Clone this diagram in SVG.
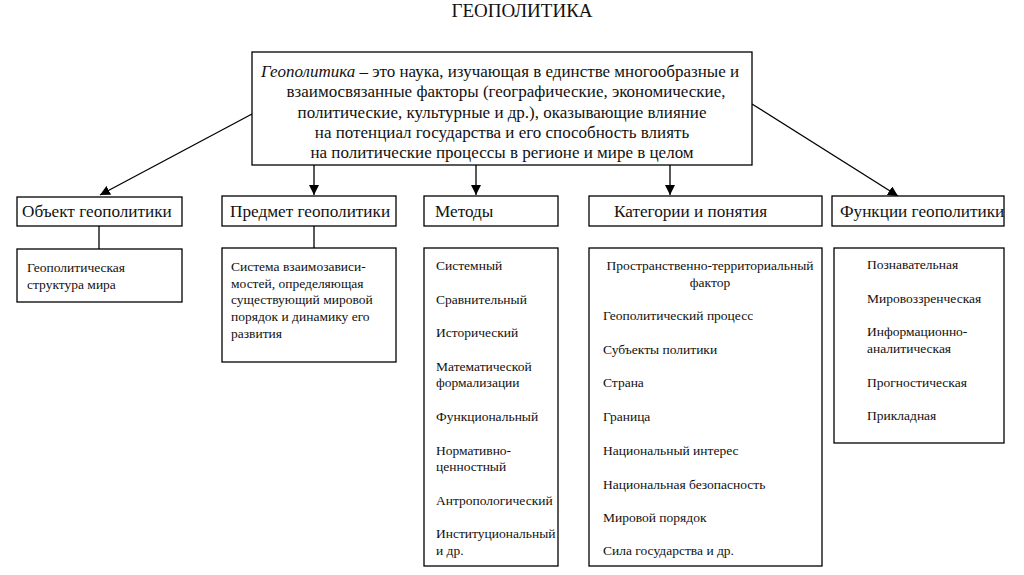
<svg xmlns="http://www.w3.org/2000/svg" width="1024" height="575" viewBox="0 0 1024 575">
<defs>
<marker id="arr" viewBox="0 0 10 10" refX="10" refY="5" markerWidth="10" markerHeight="10" markerUnits="userSpaceOnUse" orient="auto">
<path d="M0,0 L10,5 L0,10 z" fill="#000"/>
</marker>
<style>
rect{fill:#fff;stroke:#000;stroke-width:1.3}
text{font-family:"Liberation Serif","Times New Roman",serif;fill:#111}
.t{font-size:19px}
.m{font-size:17px}
.h{font-size:17.2px}
.s{font-size:13.5px}
.c{text-anchor:middle}
.ln{stroke:#000;stroke-width:1.3;fill:none}
</style>
</defs>
<rect x="0" y="0" width="1024" height="575" style="stroke:none;fill:#fff"/>
<text class="t c" x="522" y="17">ГЕОПОЛИТИКА</text>

<g id="connectors">
<line class="ln" x1="252" y1="114" x2="100" y2="195" marker-end="url(#arr)"/>
<line class="ln" x1="752" y1="104" x2="898" y2="196" marker-end="url(#arr)"/>
<line class="ln" x1="314" y1="165" x2="314" y2="195" marker-end="url(#arr)"/>
<line class="ln" x1="476" y1="165" x2="476" y2="195" marker-end="url(#arr)"/>
<line class="ln" x1="670" y1="165" x2="670" y2="195" marker-end="url(#arr)"/>
<line class="ln" x1="99" y1="226" x2="99" y2="249"/>
<line class="ln" x1="314" y1="226" x2="314" y2="248"/>
</g>

<g id="main">
<rect x="252" y="52" width="500" height="113"/>
<text class="m c" x="500" y="77"><tspan font-style="italic">Геополитика</tspan> – это наука, изучающая в единстве многообразные и</text>
<text class="m c" x="506" y="97">взаимосвязанные факторы (географические, экономические,</text>
<text class="m c" x="502" y="118">политические, культурные и др.), оказывающие влияние</text>
<text class="m c" x="502" y="138">на потенциал государства и его способность влиять</text>
<text class="m c" x="502" y="158">на политические процессы в регионе и мире в целом</text>
</g>

<g id="object">
<rect x="17" y="197" width="165" height="29"/>
<text class="h" x="22" y="217">Объект геополитики</text>
</g>
<g id="object-item">
<rect x="17" y="249" width="165" height="53"/>
<text class="s" x="27" y="272">Геополитическая</text>
<text class="s" x="27" y="289">структура мира</text>
</g>

<g id="subject">
<rect x="222" y="196" width="174" height="30"/>
<text class="h" x="230" y="217">Предмет геополитики</text>
</g>
<g id="subject-item">
<rect x="222" y="248" width="174" height="114"/>
<text class="s" x="231" y="271">Система взаимозависи-</text>
<text class="s" x="231" y="288">мостей, определяющая</text>
<text class="s" x="231" y="304">существующий мировой</text>
<text class="s" x="231" y="321">порядок и динамику его</text>
<text class="s" x="231" y="338">развития</text>
</g>

<g id="methods">
<rect x="424" y="196" width="134" height="30"/>
<text class="h" x="435" y="217">Методы</text>
</g>
<g id="methods-list">
<rect x="424" y="248" width="134" height="318"/>
<text class="s" x="436" y="270">Системный</text>
<text class="s" x="436" y="304">Сравнительный</text>
<text class="s" x="436" y="337">Исторический</text>
<text class="s" x="436" y="371">Математической</text>
<text class="s" x="436" y="387">формализации</text>
<text class="s" x="436" y="421">Функциональный</text>
<text class="s" x="436" y="455">Нормативно-</text>
<text class="s" x="436" y="471">ценностный</text>
<text class="s" x="436" y="505">Антропологический</text>
<text class="s" x="436" y="538">Институциональный</text>
<text class="s" x="436" y="555">и др.</text>
</g>

<g id="categories">
<rect x="589" y="196" width="233" height="30"/>
<text class="h" x="614" y="217">Категории и понятия</text>
</g>
<g id="categories-list">
<rect x="589" y="248" width="233" height="318"/>
<text class="s c" x="710" y="270">Пространственно-территориальный</text>
<text class="s c" x="710" y="287">фактор</text>
<text class="s" x="603" y="320">Геополитический процесс</text>
<text class="s" x="603" y="354">Субъекты политики</text>
<text class="s" x="603" y="387">Страна</text>
<text class="s" x="603" y="421">Граница</text>
<text class="s" x="603" y="455">Национальный интерес</text>
<text class="s" x="603" y="489">Национальная безопасность</text>
<text class="s" x="603" y="522">Мировой порядок</text>
<text class="s" x="603" y="555">Сила государства и др.</text>
</g>

<g id="functions">
<rect x="832" y="196" width="172" height="30"/>
<text class="h" x="840" y="217">Функции геополитики</text>
</g>
<g id="functions-list">
<rect x="834" y="248" width="170" height="195"/>
<text class="s" x="867" y="269">Познавательная</text>
<text class="s" x="867" y="303">Мировоззренческая</text>
<text class="s" x="867" y="336">Информационно-</text>
<text class="s" x="867" y="353">аналитическая</text>
<text class="s" x="867" y="387">Прогностическая</text>
<text class="s" x="867" y="420">Прикладная</text>
</g>
</svg>
